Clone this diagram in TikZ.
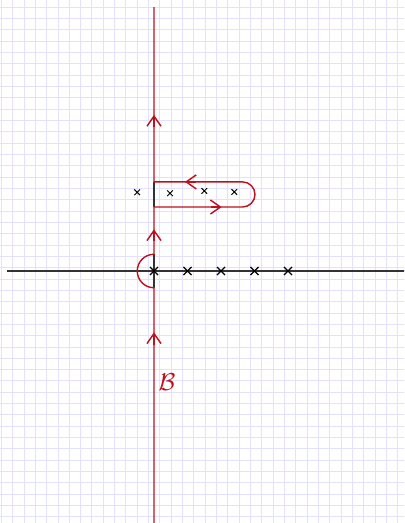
\documentclass[tikz,border=0pt]{standalone}
\usepackage{amsmath}
\usepackage{amssymb}
\usetikzlibrary{arrows.meta}
\definecolor{contourred}{RGB}{190,16,28}
\definecolor{gridblue}{RGB}{226,226,255}

\begin{document}
\begin{tikzpicture}[
    contour/.style={contourred, line width=1.2pt},
    axis/.style={black!80, line width=1.1pt},
    polemark/.style={black, line width=1pt},
    tipmark/.style={contour, -{Straight Barb[length=3mm, width=4.2mm]}}
]

    \useasboundingbox (-4.597,-7.522) rectangle (7.463,8.090);
    \clip (-4.597,-7.522) rectangle (7.463,8.090);

    % Grid paper
    \begin{scope}[shift={(0.176,0.098)}]
        \draw[gridblue, line width=0.8pt, step=0.338] (-5,-8) grid (7.6,8.2);
    \end{scope}

    % Axes (imaginary axis only shows where the contour leaves it)
    \draw[axis] (-4.39,0) -- (7.6,0);
    \draw[axis] (0,-0.5) -- (0,0.5);
    \draw[axis] (0,1.91) -- (0,2.66);

    % Contour B with indent at 0 and loop round the cut
    \draw[contour] (0,-7.7) -- (0,-0.5)
        arc[start angle=-90, end angle=-270, radius=0.5]
        -- (0,1.91) -- (2.64,1.91)
        arc[start angle=-90, end angle=90, radius=0.375]
        -- (0,2.66) -- (0,7.88);

    % Direction marks
    \draw[tipmark] (0,-2.2) -- (0,-1.83);
    \draw[tipmark] (0,0.9) -- (0,1.245);
    \draw[tipmark] (0,4.3) -- (0,4.66);
    \draw[tipmark] (1.7,1.91) -- (2.02,1.91);
    \draw[tipmark] (1.25,2.66) -- (0.925,2.66);

    % Poles on the real axis
    \foreach \x in {0,...,4}
        \draw[polemark] (\x-0.12,-0.12) -- (\x+0.12,0.12)
            (\x-0.12,0.12) -- (\x+0.12,-0.12);

    % Poles above
    \foreach \x/\y in {-0.503/2.35, 0.478/2.32, 1.502/2.39, 2.397/2.36}
        \draw[polemark, line width=0.8pt] (\x-0.085,\y-0.085) -- (\x+0.085,\y+0.085)
            (\x-0.085,\y+0.085) -- (\x+0.085,\y-0.085);

    % Label
    \node[contourred, font=\huge] (lblB) at (0.39,-3.33) {$\mathcal{B}$};

\end{tikzpicture}
\end{document}
